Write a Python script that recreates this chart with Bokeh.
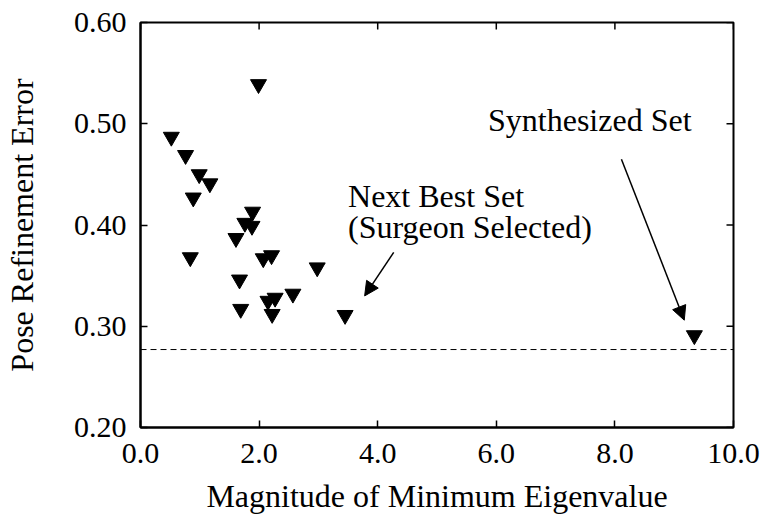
import math
from bokeh.plotting import figure
from bokeh.models import LinearAxis, FixedTicker, Span, Label, Arrow, NormalHead, Range1d
from bokeh.embed import file_html
from bokeh.resources import INLINE

# ---- data ----
eigen = [1.99, 0.52, 0.76, 0.99, 1.17, 0.89, 1.89, 1.76, 1.88, 1.61, 0.84,
         2.07, 2.21, 2.98, 1.67, 2.57, 2.27, 2.15, 1.69, 2.22, 3.45, 9.34]
error = [0.539, 0.487, 0.469, 0.450, 0.441, 0.427, 0.413, 0.402, 0.399, 0.387, 0.368,
         0.367, 0.370, 0.358, 0.346, 0.332, 0.328, 0.325, 0.317, 0.312, 0.311, 0.291]
baseline_error = 0.277

x_ticks = [0, 2, 4, 6, 8, 10]
x_tick_labels = ["0.0", "2.0", "4.0", "6.0", "8.0", "10.0"]
y_ticks = [0.2, 0.3, 0.4, 0.5, 0.6]
y_tick_labels = ["0.20", "0.30", "0.40", "0.50", "0.60"]

FONT = "Liberation Serif"
TICK_FS = "30px"
LABEL_FS = "32px"
X_MIN, X_MAX = 0, 10
Y_MIN, Y_MAX = 0.2, 0.6

p = figure(width=763, height=518, x_range=Range1d(X_MIN, X_MAX), y_range=Range1d(Y_MIN, Y_MAX),
           output_backend="svg", toolbar_location=None,
           x_axis_location=None, y_axis_location=None,
           min_border_left=134, min_border_right=30, min_border_top=22, min_border_bottom=91)
p.xgrid.visible = False
p.ygrid.visible = False
p.outline_line_color = "black"
p.outline_line_width = 2
p.background_fill_color = "white"
p.border_fill_color = "white"

xax = LinearAxis()
yax = LinearAxis()
p.add_layout(xax, "below")
p.add_layout(yax, "left")

for ax, ticks, labels in ((xax, x_ticks, x_tick_labels), (yax, y_ticks, y_tick_labels)):
    ax.ticker = FixedTicker(ticks=ticks)
    ax.major_label_overrides = {t: l for t, l in zip(ticks, labels)}
    ax.major_tick_in = 7
    ax.major_tick_out = 0
    ax.minor_tick_in = 0
    ax.minor_tick_out = 0
    ax.major_tick_line_width = 1.5
    ax.major_tick_line_color = "black"
    ax.axis_line_width = 2
    ax.axis_line_color = "black"
    ax.major_label_text_font = FONT
    ax.major_label_text_font_size = TICK_FS
    ax.major_label_text_color = "black"
    ax.axis_label_text_font = FONT
    ax.axis_label_text_font_size = LABEL_FS
    ax.axis_label_text_font_style = "normal"
    ax.axis_label_text_color = "black"

xax.major_label_standoff = 16
xax.axis_label = "Magnitude of Minimum Eigenvalue"
xax.axis_label_standoff = 12
yax.major_label_standoff = 14
yax.axis_label = "Pose Refinement Error"
yax.axis_label_standoff = 31

# inward ticks on the top and right edges (dash markers clipped by the frame)
p.scatter(x_ticks, [Y_MAX] * len(x_ticks), marker="dash", size=14, angle=math.pi / 2,
          line_color="black", line_width=1.5)
p.scatter([X_MAX] * len(y_ticks), y_ticks, marker="dash", size=14,
          line_color="black", line_width=1.5)

p.add_layout(Span(location=baseline_error, dimension="width", line_color="black",
                  line_width=1, line_dash="6 4"))

p.scatter(eigen, error, marker="inverted_triangle", size=16, color="black")

p.add_layout(Arrow(end=NormalHead(size=14, fill_color="black", line_color="black"),
                   x_start=8.11, y_start=0.465, x_end=9.17, y_end=0.306,
                   line_width=1.5, line_color="black"))
p.add_layout(Arrow(end=NormalHead(size=14, fill_color="black", line_color="black"),
                   x_start=4.27, y_start=0.373, x_end=3.78, y_end=0.330,
                   line_width=1.5, line_color="black"))

for txt, x, y in (("Synthesized Set", 5.86, 0.504),
                  ("Next Best Set", 3.50, 0.429),
                  ("(Surgeon Selected)", 3.50, 0.398)):
    p.add_layout(Label(x=x, y=y, text=txt, text_font=FONT, text_font_size=LABEL_FS,
                       text_color="black", text_align="left", text_baseline="alphabetic"))

open("out.html", "w").write(file_html(p, INLINE))
